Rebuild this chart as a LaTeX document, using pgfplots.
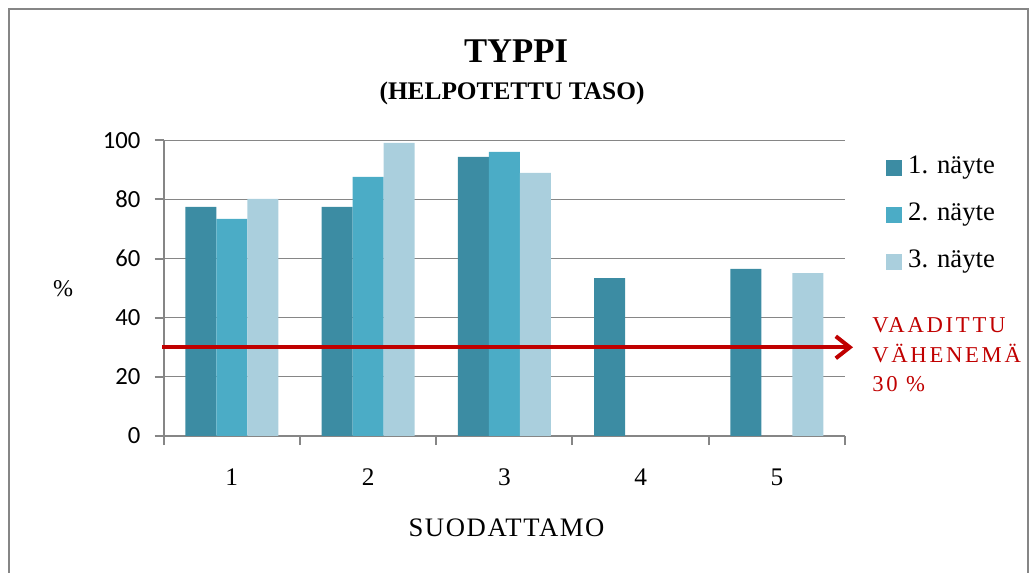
\documentclass[border=0pt]{standalone}
\usepackage{fontspec}
\setmainfont{Liberation Serif}
\newfontfamily\carlito{Carlito}
\usepackage{pgfplots}
\pgfplotsset{compat=1.18}
\usetikzlibrary{arrows.meta}
\newlength\px \setlength\px{0.75pt}
\definecolor{sA}{HTML}{3C8CA3}
\definecolor{sB}{HTML}{4BACC6}
\definecolor{sC}{HTML}{AACFDD}
\definecolor{frm}{HTML}{868686}
\definecolor{vred}{HTML}{C00000}
\pgfplotsset{sq legend/.style={legend image code/.code={\fill[##1,/tikz/.cd] (0pt,-8\px) rectangle (16\px,8\px);}}}
\begin{document}
\begin{tikzpicture}
\useasboundingbox (0,0) rectangle (1029\px,-573\px);
\draw[frm, line width=2\px] (9\px,-590\px) -- (9\px,-9\px) -- (1028\px,-9\px) -- (1028\px,-590\px);
\begin{axis}[
  at={(163.7\px,-436\px)}, anchor=south west, scale only axis,
  width=681.3\px, height=295.7\px,
  xmin=0.5, xmax=5.5, ymin=0, ymax=100,
  axis x line*=bottom, axis y line*=left,
  axis line style={draw=frm, line width=2\px, -},
  ytick={0,20,...,100}, ymajorgrids,
  grid style={frm, line width=1.2\px},
  xtick={0.5,1.5,...,5.5}, xticklabels={},
  extra x ticks={1,2,3,4,5}, extra x tick labels={1,2,3,4,5},
  extra x tick style={major tick length=0pt, xticklabel style={anchor=base, yshift=-50\px}},
  tick align=outside, major tick length=9\px,
  tick style={frm, line width=2\px},
  xticklabel style={font=\fontsize{19}{21}\selectfont},
  yticklabel style={font=\carlito\fontsize{18.5}{20}\selectfont, anchor=east, inner sep=0pt, xshift=-14\px},
  /pgf/number format/assume math mode=true,
  clip=false,
  bar width=31\px,
  legend style={at={(axis description cs:1.0601,0.749)}, anchor=west, draw=none, fill=none,
    inner sep=0pt, row sep=26\px, font=\fontsize{20}{22}\selectfont,
    nodes={inner sep=0pt, inner xsep=6\px, text height=16\px, text depth=5\px}},
  legend cell align=left,
]
\addplot[ybar, bar shift=-31\px, fill=sA, draw=none, sq legend] coordinates {(1,77.5) (2,77.5) (3,94.4) (4,53.4) (5,56.5)};
\addplot[ybar, bar shift=0pt, fill=sB, draw=none, sq legend] coordinates {(1,73.4) (2,87.6) (3,96.1)};
\addplot[ybar, bar shift=31\px, fill=sC, draw=none, sq legend] coordinates {(1,80.2) (2,99.1) (3,89.0) (5,55.1)};
\addplot[vred, line width=3pt, -{Straight Barb[length=10.5pt, width=16.5pt]}, forget plot] coordinates {(0.49,30) (5.559,30)};
\legend{1. näyte, 2. näyte, 3. näyte}
\end{axis}
\node[anchor=base, font=\bfseries\fontsize{26}{28}\selectfont] at (516\px,-63\px) {TYPPI};
\node[anchor=base, font=\bfseries\fontsize{19}{21}\selectfont] at (512\px,-100\px) {(HELPOTETTU TASO)};
\node[anchor=base, font=\fontsize{20}{22}\selectfont\addfontfeature{LetterSpace=6}] at (506.5\px,-537\px) {SUODATTAMO};
\node[anchor=base, font=\fontsize{18}{20}\selectfont] at (63\px,-297\px) {\%};
\begin{scope}[every node/.style={anchor=base west, inner sep=0pt, text=vred, font=\fontsize{17}{19}\selectfont\addfontfeature{LetterSpace=12}}]
\node at (872\px,-333\px) {VAADITTU};
\node at (872\px,-363\px) {VÄHENEMÄ};
\node at (872\px,-392\px) {30 \%};
\end{scope}
\end{tikzpicture}
\end{document}
